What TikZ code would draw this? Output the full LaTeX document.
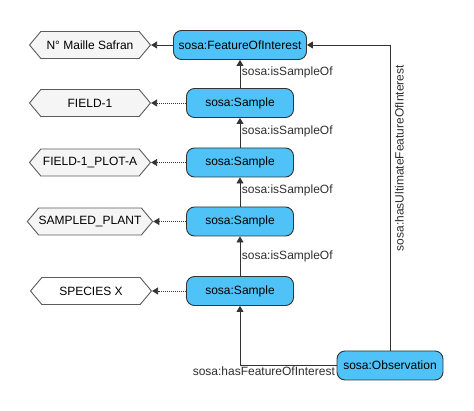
\documentclass[tikz,border=0pt]{standalone}
\usepackage{fontspec}
\setmainfont{Liberation Sans}
\usetikzlibrary{arrows.meta,shapes.symbols}

\definecolor{skyfill}{RGB}{79,195,247}
\definecolor{edgegray}{RGB}{51,51,51}
\definecolor{hexfill}{RGB}{245,245,245}

\tikzset{
  class/.style={draw=edgegray, fill=skyfill, rounded corners=8pt, minimum height=29pt,
    inner sep=0pt, line width=0.9pt, font=\fontsize{12}{14}\selectfont},
  literal/.style={signal, signal to=west and east, signal pointer angle=100,
    draw=edgegray!80, fill=hexfill, minimum width=121pt, minimum height=27pt,
    inner sep=0pt, line width=0.9pt, font=\fontsize{12}{14}\selectfont},
  subof/.style={-{Triangle[width=7pt,length=6pt]}, draw=edgegray, line width=0.8pt},
  valueof/.style={subof, dash pattern=on 1pt off 1pt},
  rel/.style={font=\fontsize{12}{14}\selectfont, text=edgegray!90!black, inner sep=1.5pt},
}

\begin{document}
\begin{tikzpicture}[x=1pt, y=-1pt]
  \useasboundingbox (0,0) rectangle (474,411);

  % classes
  \node[class, minimum width=133pt] (foi) at (240,45) {sosa:FeatureOfInterest};
  \node[class, minimum width=107pt] (s1) at (240,103) {sosa:Sample};
  \node[class, minimum width=107pt] (s2) at (240,162.5) {sosa:Sample};
  \node[class, minimum width=107pt] (s3) at (240,221.5) {sosa:Sample};
  \node[class, minimum width=107pt] (s4) at (240,291) {sosa:Sample};
  \node[class, minimum width=106pt] (obs) at (390,365.5) {sosa:Observation};

  % literals
  \node[literal] (maille) at (90,45) {N° Maille Safran};
  \node[literal] (field) at (90,103) {FIELD-1};
  \node[literal] (plot) at (90,162.5) {FIELD-1\_PLOT-A};
  \node[literal] (plant) at (90,221.5) {SAMPLED\_PLANT};
  \node[literal, fill=white] (species) at (91,291) {SPECIES X};

  \draw[subof] (foi.west) -- (maille.east);
  \draw[valueof] (s1.west) -- (field.east);
  \draw[valueof] (s2.west) -- (plot.east);
  \draw[valueof] (s3.west) -- (plant.east);
  \draw[valueof] (s4.west) -- (species.east);

  \draw[subof] (s1.north) -- node[rel, right, pos=0.55] {sosa:isSampleOf} (foi.south);
  \draw[subof] (s2.north) -- node[rel, right, pos=0.55] {sosa:isSampleOf} (s1.south);
  \draw[subof] (s3.north) -- node[rel, right, pos=0.55] {sosa:isSampleOf} (s2.south);
  \draw[subof] (s4.north) -- node[rel, right] {sosa:isSampleOf} (s3.south);

  \draw[subof] (obs.west) -| (s4.south);
  \node[rel, anchor=north east] (hasfoi) at (obs.west) {sosa:hasFeatureOfInterest};
  \draw[subof] (obs.north) |- node[rel, pos=0.315, rotate=90, anchor=north, inner sep=4.5pt] {sosa:hasUltimateFeatureOfInterest} (foi.east);
\end{tikzpicture}
\end{document}
